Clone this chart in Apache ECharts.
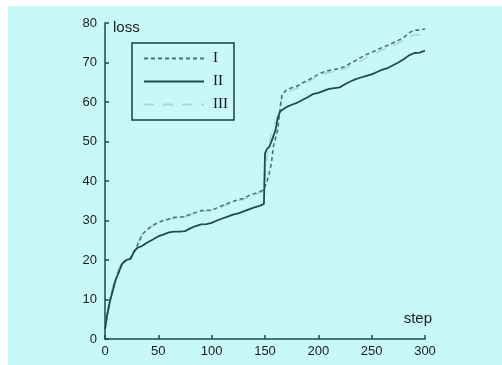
<!DOCTYPE html>
<html>
<head>
<meta charset="utf-8">
<script src="https://cdn.jsdelivr.net/npm/echarts@6/dist/echarts.min.js"></script>
<style>
  html, body { margin: 0; padding: 0; background: #fff; }
  #chart { position: absolute; left: 8px; top: 6px; width: 494px; height: 359px; }
</style>
</head>
<body>
<div id="chart"></div>
<script>
// steps shared by all three curves (denser around the jump)
const steps = [0, 2, 5, 8, 10, 13, 16, 20, 24, 27, 30, 35, 40, 45, 50, 55, 60, 65, 70, 75,
  80, 85, 90, 95, 100, 105, 110, 115, 120, 125, 130, 135, 140, 145, 149, 150, 152, 154, 156,
  158, 160, 162, 164, 166, 170, 175, 180, 185, 190, 195, 200, 205, 210, 215, 220, 225, 230,
  235, 240, 245, 250, 255, 260, 265, 270, 275, 280, 285, 290, 295, 300]

const lossI = [2.5, 6, 10, 13, 15, 17, 19, 20, 20.5, 22, 23.5, 26.5, 27.8, 28.8, 29.5, 30, 30.4, 30.8, 30.8, 31,
  31.6, 32, 32.5, 32.6, 32.6, 33.2, 33.8, 34.3, 34.8, 35.3, 35.6, 36.3, 36.8, 37.3, 37.8, 38, 40, 42, 44.5,
  49, 51, 53, 58, 62, 63, 63.6, 64, 64.8, 65.5, 66.2, 67, 67.6, 68, 68.2, 68.5, 69, 69.8,
  70.5, 71.3, 72, 72.5, 73.2, 73.8, 74.3, 75, 75.6, 76.3, 77.5, 78.2, 78.2, 78.5]

const lossII = [2.5, 6, 10, 13, 15, 17, 19, 20, 20.3, 22, 23, 23.6, 24.5, 25.2, 26, 26.5, 27, 27.2, 27.2, 27.3,
  28, 28.6, 29, 29.1, 29.4, 30, 30.5, 31, 31.5, 31.8, 32.3, 32.8, 33.3, 33.7, 34.2, 47, 48.2, 48.6, 50,
  51.5, 53, 56, 57.5, 58, 58.7, 59.3, 59.8, 60.5, 61.2, 62, 62.3, 62.8, 63.3, 63.5, 63.7, 64.5, 65.2,
  65.8, 66.2, 66.6, 67, 67.6, 68.2, 68.6, 69.3, 70, 70.8, 71.8, 72.4, 72.5, 73]

const lossIII = [2.5, 7, 11, 14, 16, 18, 19.5, 20, 20.5, 22, 24, 26.5, 27.8, 28.8, 29.5, 30, 30.3, 30.6, 30.7, 30.9,
  31.4, 31.9, 32.3, 32.4, 32.5, 33, 33.6, 34, 34.5, 35, 35.4, 36, 36.5, 37, 37.5, 40, 47, 49, 52.5,
  54, 55, 57, 59, 61, 62.3, 63, 63.5, 64.2, 65, 65.8, 66.5, 67, 67.5, 67.7, 68, 68.5, 69.2,
  69.8, 70.5, 71.2, 71.8, 72.5, 73.2, 73.8, 74.4, 75, 75.6, 76.5, 77, 77, 77.2]

const seriesNames = ['I', 'II', 'III']
const xTicks = [0, 50, 100, 150, 200, 250, 300]
const yTicks = [0, 10, 20, 30, 40, 50, 60, 70, 80]

const axisColor = '#1e4a4a'
const labelColor = '#1c1c1c'

function pairs(ys) {
  return steps.map(function(s, i) { return [s, ys[i]] })
}

const chart = echarts.init(document.getElementById('chart'), null, { renderer: 'canvas' })

chart.setOption({
  animation: false,
  backgroundColor: '#c8f8f8',
  textStyle: { fontFamily: 'Liberation Sans, Arial, sans-serif' },
  grid: {
    left: 97,
    top: 17,
    width: 320,
    height: 316
  },
  legend: {
    data: seriesNames,
    orient: 'vertical',
    left: 124,
    top: 37,
    itemWidth: 60,
    itemHeight: 14,
    itemGap: 8,
    padding: [8, 6, 8, 11],
    borderColor: '#1e3c3c',
    borderWidth: 1.5,
    selectedMode: false,
    itemStyle: { opacity: 0 },
    textStyle: {
      fontFamily: 'Liberation Serif, DejaVu Serif, serif',
      fontSize: 15,
      color: '#1a1a1a',
      width: 24,
      align: 'center',
      padding: [0, 0, 0, 4]
    }
  },
  xAxis: {
    type: 'value',
    min: 0,
    max: 300,
    interval: 50,
    name: 'step',
    nameLocation: 'end',
    nameGap: 7,
    nameTextStyle: {
      color: labelColor,
      fontSize: 15,
      align: 'right',
      verticalAlign: 'bottom',
      padding: [0, 0, 13, 0]
    },
    splitLine: { show: false },
    axisLine: { lineStyle: { color: axisColor, width: 1.5 } },
    axisTick: { inside: true, length: 4, lineStyle: { color: axisColor, width: 1.5 } },
    axisLabel: {
      color: labelColor,
      fontSize: 13,
      margin: 6,
      formatter: function(v) { return xTicks.indexOf(v) >= 0 ? String(v) : '' }
    }
  },
  yAxis: {
    type: 'value',
    min: 0,
    max: 80,
    interval: 10,
    name: 'loss',
    nameLocation: 'end',
    nameGap: 0,
    nameTextStyle: {
      color: labelColor,
      fontSize: 15,
      align: 'left',
      verticalAlign: 'top',
      padding: [-3, 0, 0, 8]
    },
    splitLine: { show: false },
    axisLine: { lineStyle: { color: axisColor, width: 1.5 } },
    axisTick: { inside: true, length: 4, lineStyle: { color: axisColor, width: 1.5 } },
    axisLabel: {
      color: labelColor,
      fontSize: 13,
      margin: 8,
      formatter: function(v) { return yTicks.indexOf(v) >= 0 ? String(v) : '' }
    }
  },
  series: [
    {
      name: 'III',
      type: 'line',
      data: pairs(lossIII),
      symbol: 'none',
      z: 1,
      lineStyle: { color: '#a9d8d8', width: 1.6, type: [10, 9] },
      itemStyle: { color: '#a9d8d8' }
    },
    {
      name: 'I',
      type: 'line',
      data: pairs(lossI),
      symbol: 'none',
      z: 2,
      lineStyle: { color: '#4a7475', width: 1.6, type: [4, 3] },
      itemStyle: { color: '#4a7475' }
    },
    {
      name: 'II',
      type: 'line',
      data: pairs(lossII),
      symbol: 'none',
      z: 3,
      lineStyle: { color: '#1f4d4e', width: 1.8 },
      itemStyle: { color: '#1f4d4e' }
    }
  ]
})
</script>
</body>
</html>
